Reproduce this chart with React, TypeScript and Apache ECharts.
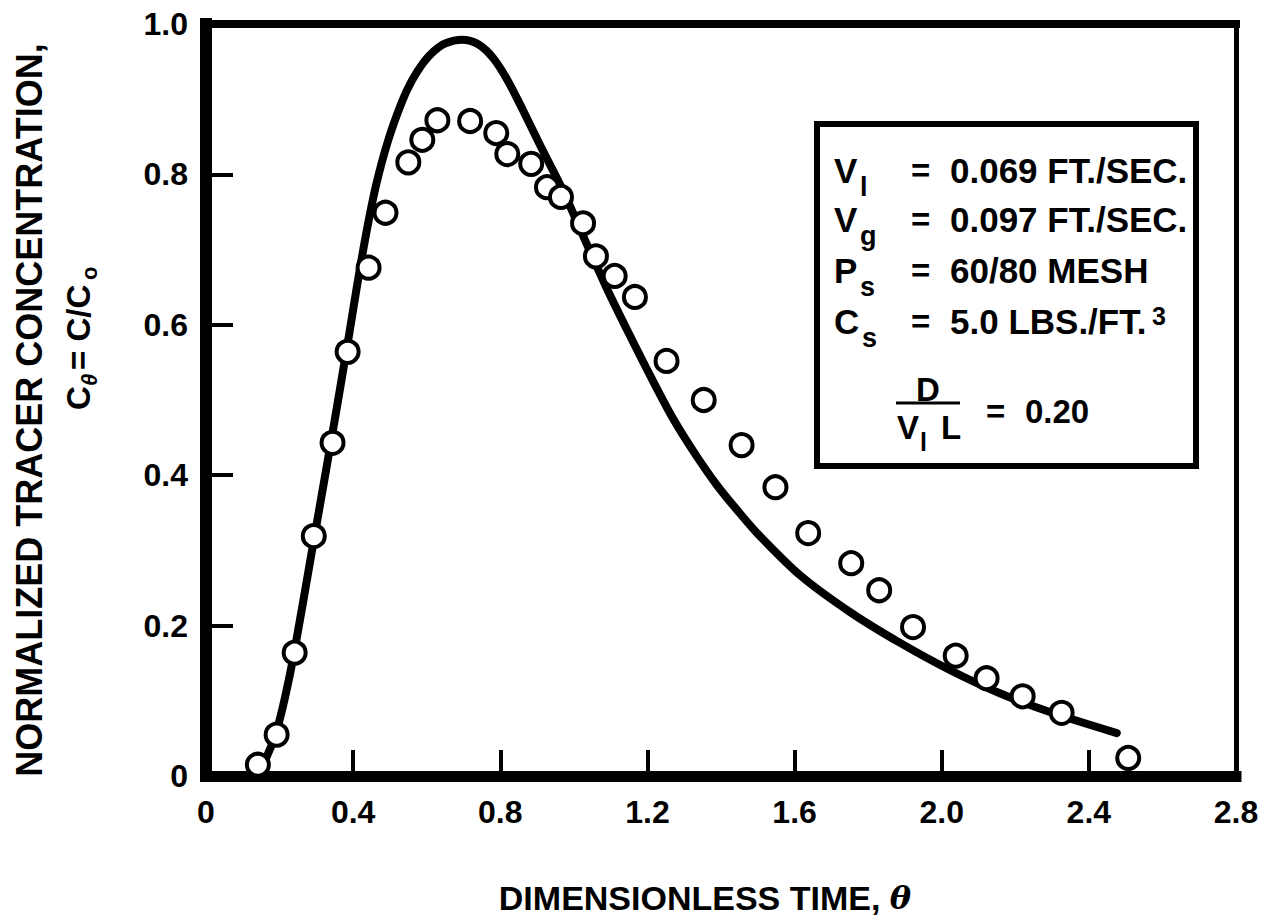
import React, { useEffect, useRef } from "react";
import * as echarts from "echarts";

// ---------- data ----------
const xTickLabels = ["0", "0.4", "0.8", "1.2", "1.6", "2.0", "2.4", "2.8"];
const yTickLabels = ["0", "0.2", "0.4", "0.6", "0.8", "1.0"];

// model curve (solid line)
const curveTheta = [
  0.135, 0.16, 0.19, 0.215, 0.24, 0.29, 0.34, 0.385, 0.41, 0.435, 0.462, 0.495,
  0.533, 0.56, 0.59, 0.62, 0.65, 0.696, 0.74, 0.78, 0.82, 0.86, 0.908, 0.97,
  1.03, 1.09, 1.15, 1.21, 1.27, 1.33, 1.39, 1.45, 1.5, 1.615, 1.751, 1.887,
  2.022, 2.158, 2.294, 2.476,
];
const curveConc = [
  0.0, 0.02, 0.057, 0.105, 0.165, 0.305, 0.445, 0.575, 0.65, 0.72, 0.785, 0.845,
  0.897, 0.925, 0.948, 0.964, 0.974, 0.979, 0.973, 0.955, 0.925, 0.887, 0.839,
  0.779, 0.713, 0.648, 0.588, 0.53, 0.475, 0.428, 0.386, 0.35, 0.322, 0.267,
  0.218, 0.177, 0.141, 0.11, 0.085, 0.057,
];

// measured points (open circles)
const obsTheta = [
  0.141, 0.192, 0.241, 0.293, 0.344, 0.385, 0.442, 0.488, 0.55, 0.588, 0.629,
  0.718, 0.789, 0.819, 0.884, 0.927, 0.965, 1.025, 1.06, 1.111, 1.166, 1.252,
  1.353, 1.456, 1.548, 1.637, 1.754, 1.83, 1.922, 2.038, 2.122, 2.22, 2.326,
  2.507,
];
const obsConc = [
  0.015, 0.055, 0.164, 0.319, 0.443, 0.564, 0.676, 0.749, 0.816, 0.846, 0.872,
  0.871, 0.855, 0.827, 0.814, 0.783, 0.77, 0.735, 0.691, 0.665, 0.637, 0.552,
  0.5, 0.44, 0.384, 0.323, 0.283, 0.247, 0.198, 0.16, 0.13, 0.106, 0.084,
  0.024,
];

const xTitle = "DIMENSIONLESS TIME, ";
const xTitleSymbol = "θ";
const yTitleLine1 = "NORMALIZED TRACER CONCENTRATION,";

const legendSymbols = ["V", "V", "P", "C"];
const legendSubs = ["l", "g", "s", "s"];
const legendValues = ["0.069 FT./SEC.", "0.097 FT./SEC.", "60/80 MESH", "5.0 LBS./FT."];
const dispersionValue = "0.20";

// ---------- layout ----------
const FONT = '"Liberation Sans", Arial, Helvetica, sans-serif';
const GRID = { left: 206, right: 46, top: 24, bottom: 142 };

function txt(x: number, y: number, text: string, size: number, align = "left", extra: any = {}) {
  return {
    type: "text",
    x,
    y,
    silent: true,
    style: {
      text,
      fill: "#000",
      fontSize: size,
      fontWeight: "bold",
      fontFamily: FONT,
      align,
      verticalAlign: "middle",
      textAlign: align,
      textVerticalAlign: "middle",
      ...extra,
    },
  };
}

export default function App() {
  const ref = useRef<HTMLDivElement>(null);

  useEffect(() => {
    if (!ref.current) return;
    const chart = echarts.init(ref.current, undefined, { renderer: "svg" });

    const curve = curveTheta.map((t, i) => [t, curveConc[i]]);
    const obs = obsTheta.map((t, i) => [t, obsConc[i]]);

    const rowCenters = [170, 219, 270, 321];
    const graphics: any[] = [];

    // legend box
    graphics.push({
      type: "rect",
      silent: true,
      shape: { x: 817, y: 124, width: 379, height: 342 },
      style: { fill: "#fff", stroke: "#000", lineWidth: 6 },
      z: 10,
    });
    legendSymbols.forEach((s, i) => {
      const cy = rowCenters[i];
      const symW = s === "C" ? 25 : 23;
      graphics.push({ ...txt(834, cy, s, 35), z: 11 });
      graphics.push({ ...txt(834 + symW + 3, cy + 17, legendSubs[i], 27), z: 11 });
      graphics.push({ ...txt(911, cy, "=", 33), z: 11 });
      graphics.push({ ...txt(950, cy, legendValues[i], 35), z: 11 });
    });
    graphics.push({ ...txt(1152, 316, "3", 25), z: 11 });
    // D / (V_l L) = 0.20
    graphics.push({ ...txt(928, 389, "D", 33, "center"), z: 11 });
    graphics.push({
      type: "line",
      silent: true,
      shape: { x1: 896, y1: 403, x2: 960, y2: 403 },
      style: { stroke: "#000", lineWidth: 3 },
      z: 11,
    });
    graphics.push({ ...txt(897, 427, "V", 33), z: 11 });
    graphics.push({ ...txt(920, 442, "l", 25), z: 11 });
    graphics.push({ ...txt(941, 427, "L", 33), z: 11 });
    graphics.push({ ...txt(986, 411, "=", 33), z: 11 });
    graphics.push({ ...txt(1025, 411, dispersionValue, 33), z: 11 });

    // x axis title
    graphics.push({
      type: "text",
      x: 705,
      y: 898,
      silent: true,
      style: {
        text: `{a|${xTitle}}{b|${xTitleSymbol}}`,
        align: "center",
        verticalAlign: "middle",
        textAlign: "center",
        textVerticalAlign: "middle",
        rich: {
          a: { fontSize: 34, fontWeight: "bold", fontFamily: FONT, fill: "#000" },
          b: { fontSize: 32, fontStyle: "italic", fontWeight: "bold", fontFamily: '"DejaVu Serif", serif', fill: "#000" },
        },
      },
    });

    // y axis title (rotated, reads bottom-to-top)
    graphics.push({
      type: "text",
      x: 29,
      y: 410,
      rotation: Math.PI / 2,
      silent: true,
      style: {
        text: yTitleLine1,
        fill: "#000",
        fontSize: 36,
        fontWeight: "bold",
        fontFamily: FONT,
        align: "center",
        verticalAlign: "middle",
        textAlign: "center",
        textVerticalAlign: "middle",
      },
    });
    graphics.push({
      type: "group",
      x: 78,
      y: 410,
      rotation: Math.PI / 2,
      silent: true,
      children: [
        txt(0, 0, "C", 33),
        txt(24, 11, "θ", 22, "left", { fontStyle: "italic" }),
        txt(40, 0, "= C/C", 33),
        txt(130, 11, "o", 22),
      ],
    });

    const axisText = { color: "#000", fontSize: 32, fontWeight: "bold", fontFamily: FONT };

    chart.setOption({
      animation: false,
      backgroundColor: "#fff",
      grid: { ...GRID, containLabel: false },
      xAxis: [
        {
          type: "value",
          min: 0,
          max: 2.8,
          interval: 0.4,
          position: "bottom",
          axisLine: { onZero: false, lineStyle: { color: "#000", width: 11, cap: "square" } },
          axisTick: { inside: true, length: 26, lineStyle: { color: "#000", width: 4 } },
          axisLabel: {
            ...axisText,
            margin: 20,
            formatter: (v: number) => xTickLabels[Math.round(v / 0.4)] ?? "",
          },
          splitLine: { show: false },
        },
        {
          type: "value",
          min: 0,
          max: 2.8,
          interval: 0.4,
          position: "top",
          axisLine: { onZero: false, lineStyle: { color: "#000", width: 8, cap: "square" } },
          axisTick: { show: false },
          axisLabel: { show: false },
          splitLine: { show: false },
        },
      ],
      yAxis: [
        {
          type: "value",
          min: 0,
          max: 1,
          interval: 0.2,
          position: "left",
          axisLine: { onZero: false, lineStyle: { color: "#000", width: 12, cap: "square" } },
          axisTick: { inside: true, length: 27, lineStyle: { color: "#000", width: 4 } },
          axisLabel: {
            ...axisText,
            margin: 18,
            formatter: (v: number) => yTickLabels[Math.round(v / 0.2)] ?? "",
          },
          splitLine: { show: false },
        },
        {
          type: "value",
          min: 0,
          max: 1,
          interval: 0.2,
          position: "right",
          axisLine: { onZero: false, lineStyle: { color: "#000", width: 5, cap: "square" } },
          axisTick: { show: false },
          axisLabel: { show: false },
          splitLine: { show: false },
        },
      ],
      series: [
        {
          type: "line",
          data: curve,
          xAxisIndex: 0,
          yAxisIndex: 0,
          smooth: 0.3,
          showSymbol: false,
          lineStyle: { color: "#000", width: 8, cap: "round", join: "round" },
          z: 2,
        },
        {
          type: "scatter",
          data: obs,
          xAxisIndex: 0,
          yAxisIndex: 0,
          symbol: "circle",
          symbolSize: 22,
          itemStyle: { color: "#fff", borderColor: "#000", borderWidth: 4, opacity: 1 },
          z: 3,
        },
      ],
      graphic: graphics,
    });

    return () => chart.dispose();
  }, []);

  return (
    <div
      ref={ref}
      style={{ position: "fixed", left: 0, top: 0, width: 1282, height: 918 }}
    />
  );
}
